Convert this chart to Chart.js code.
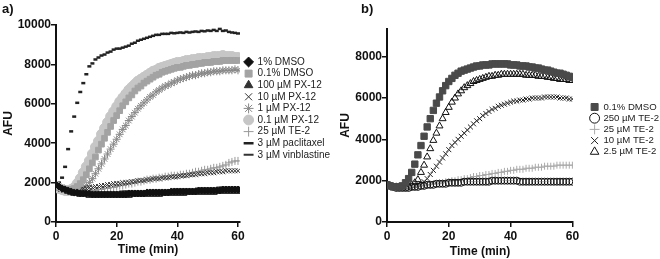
<!DOCTYPE html>
<html>
<head>
<meta charset="utf-8">
<script src="https://cdn.jsdelivr.net/npm/chart.js@4/dist/chart.umd.min.js"></script>
<style>
  body { margin: 0; background: #fff; }
  #wrap { position: relative; width: 660px; height: 259px; overflow: hidden; }
  canvas { position: absolute; top: 0; }
  .tag { position: absolute; font: bold 13px 'Liberation Sans', Arial, sans-serif; color: #111; }
</style>
</head>
<body>
<div id="wrap">
  <canvas id="chartA" width="345" height="259" style="left:0"></canvas>
  <canvas id="chartB" width="325" height="259" style="left:335px"></canvas>
  <div class="tag" style="left:2px;top:1px">a)</div>
  <div class="tag" style="left:361px;top:1px">b)</div>
</div>
<script>
// sampling times (min)
const minutes = [0,1,2,3,4,5,6,7,8,9,10,11,12,13,14,15,16,17,18,19,20,21,22,23,24,25,26,27,28,29,30,
  31,32,33,34,35,36,37,38,39,40,41,42,43,44,45,46,47,48,49,50,51,52,53,54,55,56,57,58,59,60];
const timeTicks = [0, 20, 40, 60];
const afuTicksA = [0, 2000, 4000, 6000, 8000, 10000];
const afuTicksB = [0, 2000, 4000, 6000, 8000];

// panel a)
const dmso1 = [1900,1800,1700,1650,1600,1550,1500,1500,1450,1450, 1450,1450,1400,1400,1400,1400,1400,1400,1400,1400,
  1400,1400,1400,1400,1450,1450,1450,1450,1450,1450, 1500,1500,1500,1500,1500,1500,1500,1500,1550,1550,
  1550,1550,1550,1550,1550,1550,1550,1600,1600,1600, 1600,1600,1600,1600,1600,1650,1650,1650,1650,1650, 1650];
const dmso01 = [1850,1750,1700,1650,1650,1650,1700,1800,1950,2150, 2400,2700,3000,3300,3650,3950,4250,4550,4850,5150,
  5400,5650,5900,6100,6300,6450,6650,6800,6900,7050, 7150,7250,7350,7450,7500,7600,7650,7700,7750,7800,
  7850,7850,7900,7950,7950,8000,8000,8050,8050,8100, 8100,8100,8150,8150,8150,8200,8200,8200,8200,8200, 8200];
const px100 = [1800,1700,1650,1600,1550,1500,1450,1450,1400,1400, 1400,1350,1350,1350,1350,1350,1350,1350,1350,1350,
  1350,1350,1350,1350,1350,1400,1400,1400,1400,1400, 1400,1400,1400,1400,1400,1450,1450,1450,1450,1450,
  1450,1450,1450,1500,1500,1500,1500,1500,1500,1500, 1500,1500,1500,1550,1550,1550,1550,1550,1550,1550, 1550];
const px10 = [1850,1800,1750,1700,1650,1650,1650,1650,1650,1700, 1700,1750,1750,1800,1800,1850,1850,1900,1900,1950,
  1950,1950,2000,2000,2000,2050,2050,2100,2100,2100, 2150,2150,2200,2200,2200,2250,2250,2250,2300,2300,
  2300,2350,2350,2350,2400,2400,2400,2450,2450,2450, 2500,2500,2500,2550,2550,2550,2600,2600,2600,2600, 2600];
const px1 = [1850,1750,1700,1650,1600,1600,1600,1600,1650,1750, 1850,2000,2200,2450,2700,2950,3200,3450,3700,3950,
  4200,4450,4700,4900,5150,5350,5550,5750,5900,6050, 6200,6350,6450,6600,6700,6800,6900,6950,7050,7100,
  7200,7250,7300,7350,7400,7450,7450,7500,7550,7550, 7600,7600,7650,7650,7650,7700,7700,7700,7700,7750, 7700];
const px01 = [1800,1700,1650,1600,1600,1650,1750,1950,2200,2500, 2800,3100,3450,3800,4100,4450,4750,5050,5350,5600,
  5850,6100,6300,6500,6700,6850,7000,7150,7250,7350, 7450,7550,7650,7700,7800,7850,7900,7950,8000,8050,
  8100,8100,8150,8200,8200,8250,8250,8300,8300,8300, 8350,8350,8400,8400,8400,8450,8400,8400,8400,8350, 8350];
const te2A = [1800,1700,1650,1600,1550,1550,1500,1500,1500,1500, 1550,1550,1600,1600,1650,1650,1700,1700,1750,1750,
  1800,1850,1850,1900,1950,1950,2000,2050,2050,2100, 2150,2150,2200,2200,2250,2250,2300,2300,2350,2350,
  2350,2400,2400,2450,2450,2500,2550,2550,2600,2650, 2650,2700,2750,2750,2800,2850,2900,3000,3050,3100, 3100];
const paclitaxel = [1950,2000,2250,2800,3700,4600,5350,6050,6600,7050, 7500,7900,8050,8250,8350,8450,8500,8600,8650,8750,
  8800,8800,8850,8900,8950,9050,9100,9200,9250,9300, 9350,9400,9450,9500,9500,9550,9550,9550,9600,9580,
  9600,9620,9600,9650,9620,9650,9670,9650,9700,9680, 9720,9700,9750,9700,9800,9700,9720,9650,9620,9600, 9570];
const vinblastine = [1950,1850,1750,1700,1650,1600,1600,1550,1550,1550, 1500,1500,1500,1500,1500,1500,1500,1500,1500,1500,
  1500,1500,1550,1550,1550,1550,1550,1550,1550,1550, 1550,1600,1600,1600,1600,1600,1600,1600,1600,1650,
  1650,1650,1650,1650,1650,1650,1650,1700,1700,1700, 1700,1700,1700,1700,1750,1750,1750,1750,1750,1750, 1750];

// panel b)
const ctrlB = [1800,1750,1700,1700,1700,1750,1900,2100,2400,2800, 3250,3700,4150,4600,5000,5400,5750,6050,6350,6600,
  6800,6950,7100,7200,7300,7350,7400,7450,7500,7550, 7550,7600,7600,7600,7650,7650,7650,7650,7650,7650,
  7600,7600,7600,7550,7550,7550,7500,7500,7450,7450, 7400,7350,7350,7300,7250,7200,7200,7150,7100,7050, 7000];
const te250 = [1800,1750,1700,1650,1650,1650,1650,1650,1700,1700, 1700,1750,1750,1800,1800,1800,1850,1850,1850,1850,
  1900,1900,1900,1900,1900,1950,1950,1950,1950,1950, 1950,1950,1950,1950,2000,2000,2000,2000,2000,2000,
  2000,2000,2000,1950,1950,1950,1950,1950,1950,1950, 1950,1950,1950,1950,1950,1950,1950,1950,1950,1950, 1950];
const te25 = [1800,1750,1700,1650,1650,1650,1650,1650,1700,1700, 1700,1750,1750,1800,1800,1850,1850,1900,1900,1950,
  1950,2000,2000,2050,2050,2100,2100,2150,2200,2200, 2250,2250,2300,2300,2350,2350,2400,2400,2450,2450,
  2500,2500,2550,2550,2550,2600,2600,2600,2650,2650, 2650,2700,2700,2700,2700,2750,2750,2750,2750,2750, 2750];
const te10 = [1800,1750,1700,1700,1700,1700,1700,1700,1750,1750, 1800,1850,1950,2100,2300,2500,2700,2900,3100,3300,
  3500,3700,3850,4000,4150,4300,4450,4600,4750,4900, 5000,5150,5250,5350,5450,5500,5600,5650,5700,5750,
  5800,5850,5850,5900,5900,5950,5950,6000,6000,6000, 6000,6050,6050,6050,6050,6050,6000,6000,6000,5950, 5950];
const te2_5 = [1800,1750,1700,1700,1700,1700,1700,1750,1800,1900, 2050,2400,2750,3150,3550,3950,4300,4650,5000,5300,
  5550,5800,6000,6200,6350,6500,6600,6700,6800,6850, 6900,6950,7000,7050,7050,7100,7100,7150,7150,7150,
  7150,7150,7150,7150,7150,7100,7100,7100,7100,7050, 7050,7050,7000,7000,6950,6950,6900,6900,6900,6850, 6850];

Chart.defaults.font.family = "'Liberation Sans', Arial, sans-serif";
Chart.defaults.color = '#111';

// moves the legend block to a fixed spot next to the plot
// (and widens its clip box so the labels are not cut)
const legendAt = {
  id: 'legendAt',
  afterLayout(chart, args, opts) {
    const lg = chart.legend;
    if (!lg) return;
    const h = lg.bottom - lg.top;
    lg.left = opts.x; lg.right = chart.width;
    lg.top = opts.y; lg.bottom = opts.y + h;
  }
};

function series(label, data, style, color, radius, width, fill) {
  return {
    label: label,
    data: data,
    showLine: false,
    pointStyle: style,
    pointRadius: radius,
    pointBorderWidth: width,
    pointBorderColor: color,
    pointBackgroundColor: fill === undefined ? color : fill,
    borderColor: color,
    backgroundColor: fill === undefined ? color : fill
  };
}

function axes(yMax, yWidth, xMax, titlePad, xTitlePad, yTicks) {
  const tickFont = { size: 12, weight: 'bold' };
  return {
    x: {
      type: 'linear', min: 0, max: xMax,
      afterBuildTicks: s => { s.ticks = timeTicks.map(v => ({ value: v })); },
      afterFit: s => { s.height = 37; },
      border: { color: '#111', width: 2 },
      grid: { drawOnChartArea: false, tickLength: 5, color: '#111', lineWidth: 1.5 },
      ticks: { font: tickFont, color: '#111', padding: 2, maxRotation: 0, callback: v => v },
      title: { display: true, text: 'Time (min)', font: tickFont, color: '#111', padding: { top: 0, bottom: xTitlePad } }
    },
    y: {
      min: 0, max: yMax,
      afterBuildTicks: s => { s.ticks = yTicks.map(v => ({ value: v })); },
      afterFit: s => { s.width = yWidth; },
      border: { color: '#111', width: 2 },
      grid: { drawOnChartArea: false, tickLength: 5, color: '#111', lineWidth: 1.5 },
      ticks: { font: tickFont, color: '#111', padding: 0, callback: v => v },
      title: { display: true, text: 'AFU', font: tickFont, color: '#111', padding: { top: titlePad, bottom: 0 } }
    }
  };
}

// legend width is capped so the plot edge does not depend on text width
function legendOpts(size) {
  return {
    position: 'right',
    align: 'start',
    maxWidth: 50,
    labels: { usePointStyle: true, boxWidth: 8, boxHeight: 7, padding: 1.6, color: '#222', font: { size: size } }
  };
}

new Chart(document.getElementById('chartA'), {
  type: 'line',
  data: {
    labels: minutes,
    datasets: [
      series('1% DMSO', dmso1, 'rectRot', '#111', 3.5, 1),
      series('0.1% DMSO', dmso01, 'rect', '#a3a3a3', 4, 1),
      series('100 µM PX-12', px100, 'triangle', '#333', 4, 1),
      series('10 µM PX-12', px10, 'crossRot', '#333', 3.5, 1),
      series('1 µM PX-12', px1, 'star', '#888', 4, 1),
      series('0.1 µM PX-12', px01, 'circle', '#c6c6c6', 5, 1),
      series('25 µM TE-2', te2A, 'cross', '#999', 4, 1),
      series('3 µM paclitaxel', paclitaxel, 'line', '#222', 2, 2.5),
      series('3 µM vinblastine', vinblastine, 'line', '#333', 3.5, 2)
    ]
  },
  options: {
    responsive: false,
    animation: false,
    events: [],
    layout: { padding: { top: 25, right: 55, bottom: 0, left: 0 } },
    scales: axes(10000, 56, 60.66, 1, 1.8, afuTicksA),
    plugins: {
      legend: legendOpts(10),
      legendAt: { x: 243, y: 55.4 },
      tooltip: { enabled: false }
    }
  },
  plugins: [legendAt]
});

new Chart(document.getElementById('chartB'), {
  type: 'line',
  data: {
    labels: minutes,
    datasets: [
      series('0.1% DMSO', ctrlB, 'rect', '#4a4a4a', 4.5, 1),
      series('250 µM TE-2', te250, 'circle', '#111', 3.5, 1, 'rgba(0,0,0,0)'),
      series('25 µM TE-2', te25, 'cross', '#aaa', 3.5, 1),
      series('10 µM TE-2', te10, 'crossRot', '#222', 3.5, 1),
      series('2.5 µM TE-2', te2_5, 'triangle', '#111', 4, 1, 'rgba(0,0,0,0)')
    ]
  },
  options: {
    responsive: false,
    animation: false,
    events: [],
    layout: { padding: { top: 29, right: 37, bottom: 0, left: 0 } },
    scales: axes(9340, 52, 60.2, 3, 0, afuTicksB),
    plugins: {
      legend: legendOpts(9.6),
      legendAt: { x: 254, y: 100.6 },
      tooltip: { enabled: false }
    }
  },
  plugins: [legendAt]
});
</script>
</body>
</html>
